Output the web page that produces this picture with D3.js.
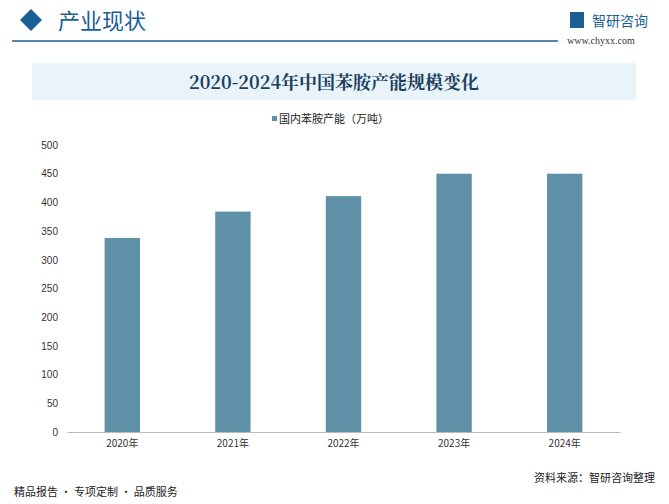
<!DOCTYPE html>
<html><head><meta charset="utf-8">
<script src="https://cdn.jsdelivr.net/npm/d3@7"></script>
<style>body{margin:0;background:#fff}svg{display:block}</style>
</head><body>
<svg id="c" width="669" height="504"></svg>
<script>
var years = ['2020年', '2021年', '2022年', '2023年', '2024年'];
var capacity = [338, 384, 411, 450, 450];
var yTicks = [0, 50, 100, 150, 200, 250, 300, 350, 400, 450, 500];

var svg = d3.select('#c');
var font = '"Noto Sans CJK SC", "Noto Sans", sans-serif';

// header
svg.append('path').attr('d', 'M20,20 L31,9 L42,20 L31,31 Z').attr('fill', '#1a5f96');
svg.append('text').attr('x', 58).attr('y', 29).attr('font-family', font)
    .attr('font-size', 22).attr('fill', '#1a5f96').text('产业现状');
svg.append('line').attr('x1', 12).attr('x2', 558).attr('y1', 41).attr('y2', 41)
    .attr('stroke', '#1a5f96').attr('stroke-width', 1.5);
svg.append('rect').attr('x', 570).attr('y', 12).attr('width', 14).attr('height', 16).attr('fill', '#1a5f96');
svg.append('text').attr('x', 592).attr('y', 26).attr('font-family', font)
    .attr('font-size', 14).attr('fill', '#1a5f96').text('智研咨询');
svg.append('text').attr('x', 567).attr('y', 44).attr('font-family', 'Liberation Serif, serif')
    .attr('font-size', 10).attr('fill', '#333').text('www.chyxx.com');

// title box
svg.append('rect').attr('x', 32).attr('y', 63).attr('width', 604).attr('height', 37).attr('fill', '#e8f3fa');
svg.append('text').attr('x', 334).attr('y', 89).attr('text-anchor', 'middle')
    .attr('font-family', '"Noto Serif CJK SC", "Noto Sans CJK SC", serif').attr('font-weight', 'bold')
    .attr('font-size', 18).attr('fill', '#1c3f5e').text('2020-2024年中国苯胺产能规模变化');

// legend
svg.append('rect').attr('x', 272).attr('y', 116).attr('width', 5).attr('height', 5).attr('fill', '#5e91a8');
svg.append('text').attr('x', 279).attr('y', 123).attr('font-family', font)
    .attr('font-size', 11).attr('fill', '#222').text('国内苯胺产能（万吨）');

// chart
var x = d3.scaleBand().domain(years).range([67, 620]).paddingInner(0.68).paddingOuter(0.34);
var y = d3.scaleLinear().domain([0, 500]).range([432, 145]);

var yAxis = svg.append('g').attr('transform', 'translate(58,0)')
    .call(d3.axisLeft(y).tickValues(yTicks).tickSize(0).tickPadding(0));
yAxis.select('.domain').remove();
yAxis.selectAll('text').attr('font-size', 10).attr('fill', '#333').attr('font-family', 'Liberation Sans, sans-serif');

svg.selectAll('.bar').data(capacity).enter().append('rect')
    .attr('class', 'bar')
    .attr('x', function(d, i) { return x(years[i]); })
    .attr('y', function(d) { return y(d); })
    .attr('width', x.bandwidth())
    .attr('height', function(d) { return y(0) - y(d); })
    .attr('fill', '#5e91a8');

var xAxis = svg.append('g').attr('transform', 'translate(0,432)')
    .call(d3.axisBottom(x).tickSize(0).tickPadding(8));
xAxis.select('.domain').attr('stroke', '#bbb');
xAxis.selectAll('text').attr('font-size', 10).attr('fill', '#333').attr('font-family', font);

// footer
svg.append('text').attr('x', 14).attr('y', 496).attr('font-family', font)
    .attr('font-size', 11).attr('fill', '#222').text('精品报告 · 专项定制 · 品质服务');
svg.append('text').attr('x', 655).attr('y', 482).attr('text-anchor', 'end').attr('font-family', font)
    .attr('font-size', 11).attr('fill', '#222').text('资料来源：智研咨询整理');
</script>
</body></html>
